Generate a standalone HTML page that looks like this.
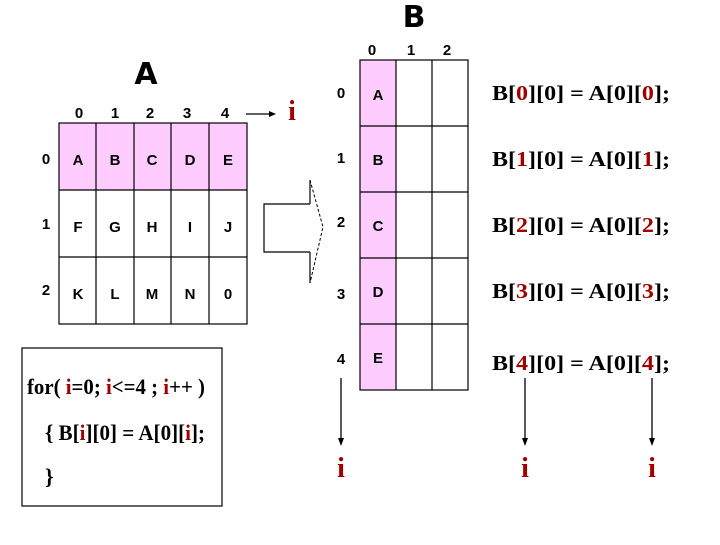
<!DOCTYPE html>
<html><head><meta charset="utf-8"><style>
body{margin:0;background:#fff;}
svg text{font-family:"Liberation Sans",sans-serif;font-weight:bold;}
.s, .s text, text.s{font-family:"Liberation Serif",serif;font-weight:bold;}
</style></head><body>
<svg width="720" height="540" viewBox="0 0 720 540" xmlns="http://www.w3.org/2000/svg">
<rect width="720" height="540" fill="#fff"/>
<rect x="59" y="123" width="188" height="67" fill="#ffccff"/>
<g stroke="#000" stroke-width="1.2" fill="none">
<rect x="59" y="123" width="188" height="201"/>
<line x1="96" y1="123" x2="96" y2="324"/><line x1="134" y1="123" x2="134" y2="324"/>
<line x1="171" y1="123" x2="171" y2="324"/><line x1="209" y1="123" x2="209" y2="324"/>
<line x1="59" y1="190" x2="247" y2="190"/><line x1="59" y1="257" x2="247" y2="257"/>
</g>
<text x="146" y="84" font-size="30" text-anchor="middle" style="font-family:'DejaVu Sans',sans-serif;font-weight:900">A</text>
<g font-size="15" text-anchor="middle">
<text x="79" y="118">0</text><text x="115" y="118">1</text><text x="150" y="118">2</text><text x="187" y="118">3</text><text x="225" y="118">4</text>
<text x="46" y="164">0</text><text x="46" y="229">1</text><text x="46" y="295">2</text>
<text x="78" y="165">A</text><text x="115" y="165">B</text><text x="152" y="165">C</text><text x="190" y="165">D</text><text x="228" y="165">E</text>
<text x="78" y="232">F</text><text x="115" y="232">G</text><text x="152" y="232">H</text><text x="190" y="232">I</text><text x="228" y="232">J</text>
<text x="78" y="299">K</text><text x="115" y="299">L</text><text x="152" y="299">M</text><text x="190" y="299">N</text><text x="228" y="299">0</text>
</g>
<line x1="246" y1="114" x2="272" y2="114" stroke="#000" stroke-width="1.3"/>
<polygon points="276,114 269,111 269,117" fill="#000"/>
<text x="292" y="120" class="s" font-size="28" fill="#a00000" text-anchor="middle">i</text>
<path d="M310,204 L264,204 L264,252 L310,252" stroke="#000" stroke-width="1.2" fill="none"/>
<line x1="310" y1="180" x2="310" y2="204" stroke="#000" stroke-width="1.2"/>
<line x1="310" y1="252" x2="310" y2="283" stroke="#000" stroke-width="1.2"/>
<path d="M310,180 L323,227 L310,283" stroke="#000" stroke-width="1" stroke-dasharray="3,2" fill="none"/>
<rect x="360" y="60" width="36" height="330" fill="#ffccff"/>
<g stroke="#000" stroke-width="1.2" fill="none">
<rect x="360" y="60" width="108" height="330"/>
<line x1="396" y1="60" x2="396" y2="390"/><line x1="432" y1="60" x2="432" y2="390"/>
<line x1="360" y1="126" x2="468" y2="126"/><line x1="360" y1="192" x2="468" y2="192"/>
<line x1="360" y1="258" x2="468" y2="258"/><line x1="360" y1="324" x2="468" y2="324"/>
</g>
<text x="414" y="27" font-size="30" text-anchor="middle" style="font-family:'DejaVu Sans',sans-serif;font-weight:900">B</text>
<g font-size="15" text-anchor="middle">
<text x="372" y="55">0</text><text x="411" y="55">1</text><text x="447" y="55">2</text>
<text x="341" y="98">0</text><text x="341" y="163">1</text><text x="341" y="227">2</text><text x="341" y="299">3</text><text x="341" y="364">4</text>
<text x="378" y="100">A</text><text x="378" y="165">B</text><text x="378" y="231">C</text><text x="378" y="297">D</text><text x="378" y="363">E</text>
</g>
<g class="s" font-size="21">
<text x="492" y="100" textLength="178" lengthAdjust="spacingAndGlyphs">B[<tspan fill="#a00000">0</tspan>][0] = A[0][<tspan fill="#a00000">0</tspan>];</text>
<text x="492" y="166" textLength="178" lengthAdjust="spacingAndGlyphs">B[<tspan fill="#a00000">1</tspan>][0] = A[0][<tspan fill="#a00000">1</tspan>];</text>
<text x="492" y="232" textLength="178" lengthAdjust="spacingAndGlyphs">B[<tspan fill="#a00000">2</tspan>][0] = A[0][<tspan fill="#a00000">2</tspan>];</text>
<text x="492" y="298" textLength="178" lengthAdjust="spacingAndGlyphs">B[<tspan fill="#a00000">3</tspan>][0] = A[0][<tspan fill="#a00000">3</tspan>];</text>
<text x="492" y="370" textLength="178" lengthAdjust="spacingAndGlyphs">B[<tspan fill="#a00000">4</tspan>][0] = A[0][<tspan fill="#a00000">4</tspan>];</text>
</g>
<g stroke="#000" stroke-width="1.3">
<line x1="341" y1="378" x2="341" y2="440"/><line x1="525" y1="378" x2="525" y2="440"/><line x1="652" y1="378" x2="652" y2="440"/>
</g>
<g fill="#000">
<polygon points="341,446 338,438 344,438"/><polygon points="525,446 522,438 528,438"/><polygon points="652,446 649,438 655,438"/>
</g>
<g class="s" font-size="28" fill="#a00000" text-anchor="middle">
<text x="341" y="477">i</text><text x="525" y="477">i</text><text x="652" y="477">i</text>
</g>
<rect x="22" y="348" width="200" height="158" fill="none" stroke="#000" stroke-width="1.2"/>
<g class="s" font-size="22">
<text x="27" y="394" textLength="178" lengthAdjust="spacingAndGlyphs">for( <tspan fill="#a00000">i</tspan>=0; <tspan fill="#a00000">i</tspan>&lt;=4 ; <tspan fill="#a00000">i</tspan>++ )</text>
<text x="45" y="440" textLength="160" lengthAdjust="spacingAndGlyphs">{ B[<tspan fill="#a00000">i</tspan>][0] = A[0][<tspan fill="#a00000">i</tspan>];</text>
<text x="45" y="484">}</text>
</g>
</svg>
</body></html>
